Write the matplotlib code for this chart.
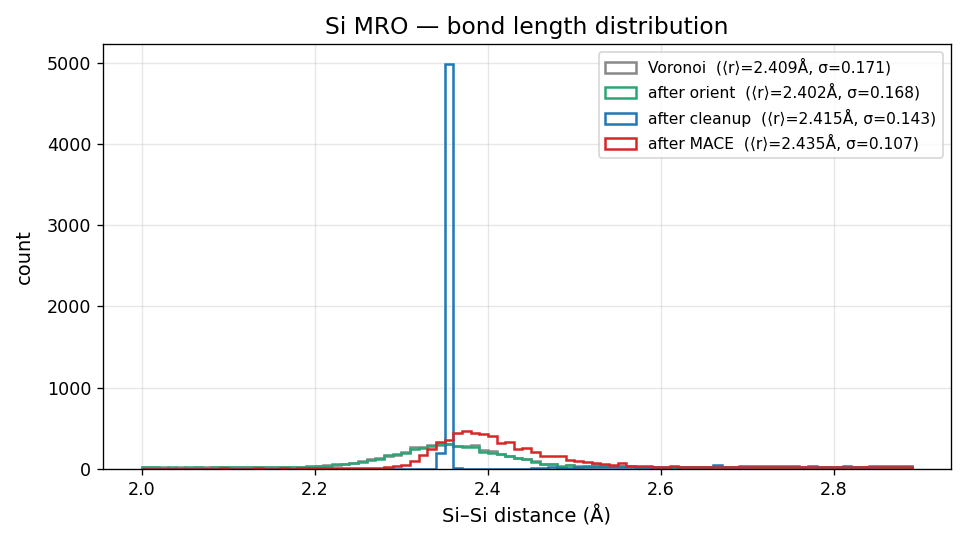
import numpy as np
import matplotlib
matplotlib.use("Agg")
import matplotlib.pyplot as plt

# bin edges: 0.01 Å wide, 2.00 .. 2.89
edges = np.round(2.0 + 0.01 * np.arange(90), 2)

labels = [
    "Voronoi  (\u27e8r\u27e9=2.409\u00c5, \u03c3=0.171)",
    "after orient  (\u27e8r\u27e9=2.402\u00c5, \u03c3=0.168)",
    "after cleanup  (\u27e8r\u27e9=2.415\u00c5, \u03c3=0.143)",
    "after MACE  (\u27e8r\u27e9=2.435\u00c5, \u03c3=0.107)",
]
colors = ["#888888", "#2ca574", "#1f77b4", "#d62728"]

# counts per bin
voronoi = [22, 18, 20, 16, 19, 17, 21, 19, 18, 22, 20, 19, 21, 20, 22, 21, 24, 23,
           25, 28, 36, 44, 50, 58, 78, 95, 118, 135, 165, 175, 210, 270, 265, 290,
           300, 305, 285, 280, 292, 235, 225, 185, 165, 130, 122, 95, 65, 55, 25, 45,
           40, 35, 48, 42, 38, 30, 33, 28, 27, 25, 26, 24, 25, 23, 24, 22, 25, 23, 22,
           24, 21, 23, 22, 20, 22, 21, 23, 20, 21, 22, 20, 21, 19, 22, 20, 21, 19, 20, 21]
orient = [18, 22, 17, 20, 14, 21, 19, 16, 22, 20, 18, 21, 19, 22, 20, 23, 22, 25,
          26, 30, 38, 42, 55, 62, 75, 90, 112, 128, 172, 180, 193, 248, 262, 285,
          305, 312, 278, 275, 270, 205, 198, 180, 155, 132, 118, 85, 62, 60, 35, 48,
          28, 30, 52, 40, 35, 32, 30, 27, 26, 27, 25, 26, 24, 25, 23, 25, 24, 22, 23,
          25, 22, 24, 21, 23, 22, 21, 24, 22, 21, 23, 21, 22, 20, 23, 21, 22, 20, 22, 21]
cleanup = [0] * 34 + [195, 4980, 12, 3, 4, 2, 5, 3, 4, 3, 5, 14, 15, 18, 16, 17,
           18, 20, 19, 18, 20, 22, 21, 23, 20, 22, 21, 23, 22, 24, 22, 21, 50, 25, 24,
           36, 35, 37, 36, 35, 37, 36, 28, 30, 27, 29, 28, 30, 27, 29, 36, 35, 37, 36, 35]
mace = [4, 3, 5, 2, 4, 3, 5, 4, 3, 6, 4, 5, 3, 6, 5, 4, 6, 5, 7, 6, 8, 7, 9, 8, 10,
        12, 13, 15, 20, 30, 50, 102, 172, 245, 335, 360, 447, 463, 442, 424, 405,
        320, 332, 242, 262, 205, 156, 155, 154, 104, 92, 80, 78, 66, 54, 68, 40, 32,
        30, 29, 28, 30, 28, 27, 29, 28, 27, 26, 28, 27, 28, 26, 27, 28, 26, 27, 28,
        26, 27, 26, 28, 27, 26, 27, 28, 26, 27, 26, 27]

series = [voronoi, orient, cleanup, mace]

fig, ax = plt.subplots(figsize=(964 / 120, 544 / 120), dpi=120)
fig.subplots_adjust(left=0.107, right=0.986, top=0.919, bottom=0.138)

centers = edges[:-1] + 0.005
for counts, lab, col in zip(series, labels, colors):
    ax.hist(centers, bins=edges, weights=counts, histtype="step",
            lw=1.5, color=col, label=lab)

ax.set_title("Si MRO \u2014 bond length distribution", fontsize=14)
ax.set_xlabel("Si\u2013Si distance (\u00c5)", fontsize=11.7)
ax.set_ylabel("count", fontsize=11.7, labelpad=8)
ax.tick_params(labelsize=10.5)
ax.grid(alpha=0.3)
ax.legend(fontsize=9.3, loc="upper right")

fig.savefig("out.png", dpi=120)
